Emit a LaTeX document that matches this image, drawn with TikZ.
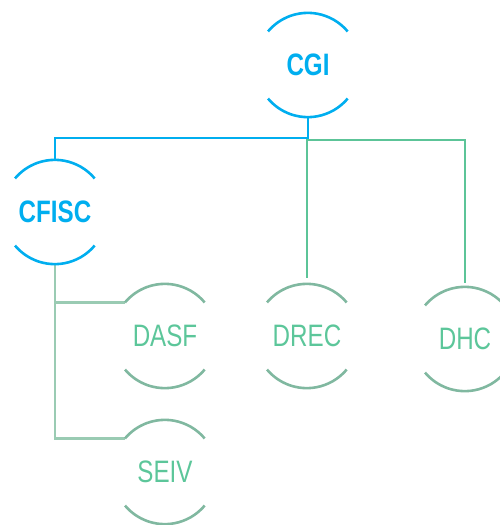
\documentclass[tikz,border=0pt]{standalone}
\usepackage{fontspec}
\newfontfamily\condfont[FakeStretch=0.78]{Liberation Sans}
\definecolor{cblue}{HTML}{00AEEF}
\definecolor{cgreen}{HTML}{5CC498}
\definecolor{carc}{HTML}{80B8A0}
\definecolor{clight}{HTML}{9ACBB3}
\definecolor{ctext}{HTML}{5CC69A}
\tikzset{
  unit/.style={circle, minimum size=104pt, inner sep=0pt, font=\condfont\fontsize{31}{31}\selectfont},
  topunit/.style={unit, text=cblue, font=\condfont\bfseries\fontsize{31}{31}\selectfont},
  subunit/.style={unit, text=ctext},
  bluearc/.style={draw=cblue, line width=2.6pt},
  greenarc/.style={draw=carc, line width=2.6pt},
  blueline/.style={draw=cblue, line width=2.4pt},
  greenline/.style={draw=cgreen, line width=2.6pt},
  lightline/.style={draw=clight, line width=2.4pt}
}
\newcommand{\halfarcs}[2]{%
  \draw[#2] (#1.140) arc (140:40:52pt);
  \draw[#2] (#1.220) arc (220:320:52pt);
}
\begin{document}
\begin{tikzpicture}[x=1pt,y=1pt]
\useasboundingbox (0,0) rectangle (500,-525);
\begin{scope}
\clip (0,0) rectangle (500,-525);
\node[topunit] (cgi) at (308,-65) {CGI};
\node[topunit] (cfisc) at (55,-212) {CFISC};
\node[subunit] (drec) at (307,-336) {DREC};
\node[subunit] (dhc) at (465,-339) {DHC};
\node[subunit] (dasf) at (165,-336) {DASF};
\node[subunit] (seiv) at (165,-472) {SEIV};
\coordinate (j1) at (0,-138);
\coordinate (j2) at (0,-140);
\draw[greenline, shorten <=6pt, shorten >=4pt] (drec.north) -- (drec.north |- j2) -| (dhc.north);
\draw[blueline] (cgi.south) -- (cgi.south |- j1) -| (cfisc.north);
\draw[lightline] (cfisc.south) |- (dasf.140);
\draw[lightline] (cfisc.south) |- (seiv.140);
\halfarcs{cgi}{bluearc}
\halfarcs{cfisc}{bluearc}
\halfarcs{drec}{greenarc}
\halfarcs{dhc}{greenarc}
\halfarcs{dasf}{greenarc}
\halfarcs{seiv}{greenarc}
\end{scope}
\end{tikzpicture}
\end{document}
